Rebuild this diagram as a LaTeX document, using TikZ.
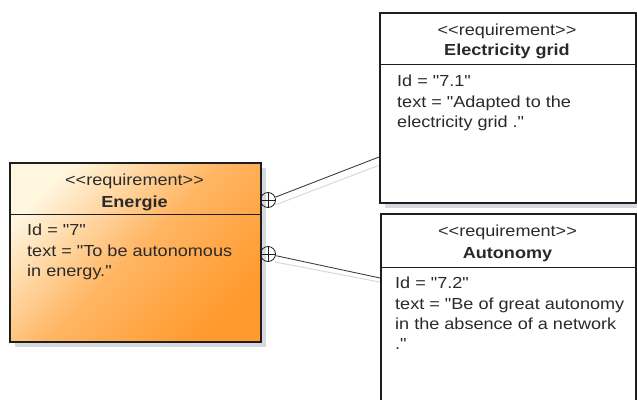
\documentclass[tikz,border=0pt]{standalone}
\usepackage{fontspec}
\setmainfont{Liberation Sans}[FakeStretch=1.13, Ligatures=TeXOff]
\usetikzlibrary{calc}
\definecolor{txt}{HTML}{2A2A2A}
\definecolor{edge}{HTML}{1E1E1E}
\definecolor{shadowc}{HTML}{D6DADF}
\definecolor{creamc}{HTML}{FFF6E0}
\definecolor{orangec}{HTML}{FF9A2E}
\tikzset{
  reqbox/.style={draw=edge, line width=1.6pt, rectangle, inner sep=0pt, anchor=north west},
  boxshadow/.style={fill=shadowc, draw=none},
  label/.style={inner sep=0pt, text=txt, font=\fontsize{16}{19}\selectfont},
  stereo/.style={label, anchor=base},
  title/.style={label, anchor=base, font=\fontsize{16}{19}\selectfont\bfseries},
  attr/.style={label, anchor=base west},
  divider/.style={draw=edge, line width=1pt},
  link/.style={draw=edge!85, line width=0.9pt},
  linkshadow/.style={draw=shadowc, line width=1pt},
  containment/.style={circle, draw=edge, line width=0.8pt, minimum size=15pt, inner sep=0pt,
    path picture={\draw[edge, line width=0.7pt]
      (path picture bounding box.north) -- (path picture bounding box.south)
      (path picture bounding box.west) -- (path picture bounding box.east);}}
}
\begin{document}
\begin{tikzpicture}[x=1pt,y=-1pt]
\useasboundingbox (0,0) rectangle (637,399);
\fill[white] (0,0) rectangle (637,399);

% drop shadows
\fill[boxshadow] (15,168) rectangle (266,347);
\fill[boxshadow] (385,18) rectangle (641,208);

% connector shadows
\draw[linkshadow] (275,205) -- (385,163);
\draw[linkshadow] (275,262) -- (385,283);

% parent requirement with gradient fill
\shade[top color=creamc, bottom color=orangec, middle color=orangec!70!creamc, shading angle=45]
  (9,162) rectangle (260,341);
\node[reqbox, minimum width=251pt, minimum height=179pt] (energie) at (9,162) {};
\draw[divider] (9,214) -- (260,214);
\node[stereo] (energieS) at (134.5,185) {<<requirement>>};
\node[title] (energieT) at (134.5,207) {Energie};
\node[attr] (energieA) at (27,235) {Id = "7"};
\node[attr] (energieB) at (27,256) {text = "To be autonomous};
\node[attr] (energieC) at (27,276) {in energy."};

% child requirement: electricity grid
\node[reqbox, fill=white, minimum width=256pt, minimum height=190pt] (grid) at (379,12) {};
\draw[divider] (379,64) -- (635,64);
\node[stereo] (gridS) at (507,35) {<<requirement>>};
\node[title] (gridT) at (507,55) {Electricity grid};
\node[attr] (gridA) at (397,86) {Id = "7.1"};
\node[attr] (gridB) at (397,107) {text = "Adapted to the};
\node[attr] (gridC) at (397,127) {electricity grid ."};

% child requirement: autonomy (runs past the lower edge)
\node[reqbox, fill=white, minimum width=255pt, minimum height=200pt] (auto) at (380,213) {};
\draw[divider] (380,267) -- (635,267);
\node[stereo] (autoS) at (507.5,236) {<<requirement>>};
\node[title] (autoT) at (507.5,258) {Autonomy};
\node[attr] (autoA) at (395,288) {Id = "7.2"};
\node[attr] (autoB) at (395,309) {text = "Be of great autonomy};
\node[attr] (autoC) at (395,329) {in the absence of a network};
\node[attr] (autoD) at (395,349) {."};

% containment connectors
\node[containment] (c1) at (268,200) {};
\node[containment] (c2) at (268,254) {};
\coordinate (gridIn) at (379,157);
\coordinate (autoIn) at (380,278);
\draw[link] (c1) -- (gridIn);
\draw[link] (c2) -- (autoIn);
\end{tikzpicture}
\end{document}
